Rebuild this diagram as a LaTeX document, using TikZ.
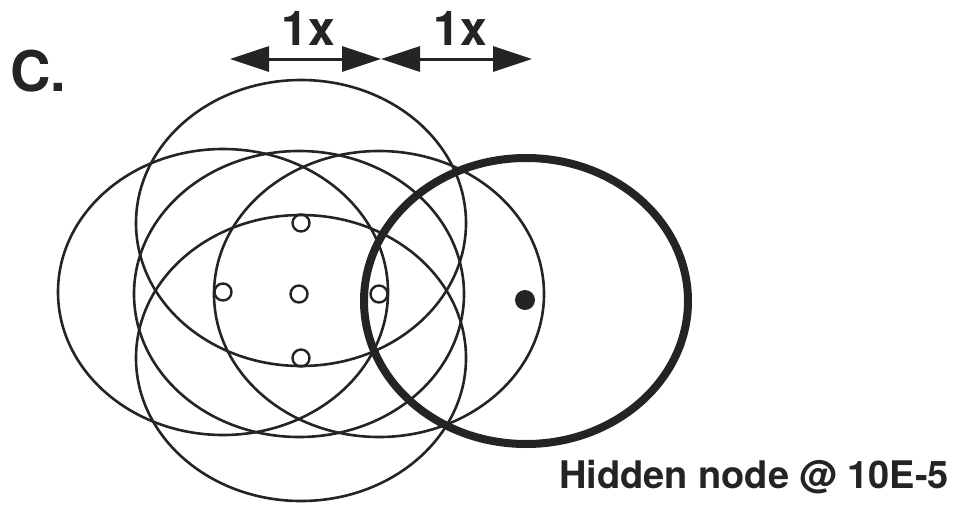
\documentclass[tikz,border=0pt]{standalone}
\usepackage{fontspec}
\setmainfont{TeX Gyre Heros}
\usetikzlibrary{arrows.meta}
\definecolor{inkgray}{RGB}{36,36,36}

\begin{document}
\begin{tikzpicture}[x=1pt, y=-1pt,
  reach/.style={draw=inkgray, line width=2.6pt},
  hiddenreach/.style={draw=inkgray, line width=8pt},
  station/.style={circle, draw=inkgray, line width=2.4pt, minimum size=17pt, inner sep=0pt},
  hiddenstation/.style={circle, fill=inkgray, minimum size=20pt, inner sep=0pt},
  span/.style={{Triangle[length=39pt, width=25pt]}-{Triangle[length=39pt, width=25pt]},
    line width=3pt, inkgray},
  tag/.style={inner sep=0pt, text=inkgray, font=\bfseries}
]
  \useasboundingbox (0,0) rectangle (956,504);
  \node[station] (nc) at (299,294) {};
  \node[station] (nt) at (301,223) {};
  \node[station] (nb) at (301,358) {};
  \node[station] (nl) at (223,292) {};
  \node[station] (nr) at (379,294) {};
  \node[hiddenstation] (hn) at (525,300) {};
  \foreach \n in {nc,nt,nb,nl,nr}
    \draw[reach] (\n) ellipse [x radius=165pt, y radius=143pt];
  \draw[hiddenreach] (526,301) ellipse [x radius=162pt, y radius=143pt];
  \coordinate (s0) at (230,59);
  \coordinate (s1) at (381,59);
  \coordinate (s2) at (532,59);
  \draw[span] (s0) -- (s1);
  \draw[span] (s1) -- (s2);
  \node[tag, anchor=base, font=\bfseries\fontsize{48}{48}\selectfont] (u1) at (308,45) {1x};
  \node[tag, anchor=base, font=\bfseries\fontsize{48}{48}\selectfont] (u2) at (460,45) {1x};
  \node[tag, anchor=base west, font=\bfseries\fontsize{56}{56}\selectfont] (part) at (10,91) {C.};
  \node[tag, anchor=base west, font=\bfseries\fontsize{38}{38}\selectfont] (caption) at (559,488) {Hidden node @ 10E-5};
\end{tikzpicture}
\end{document}
